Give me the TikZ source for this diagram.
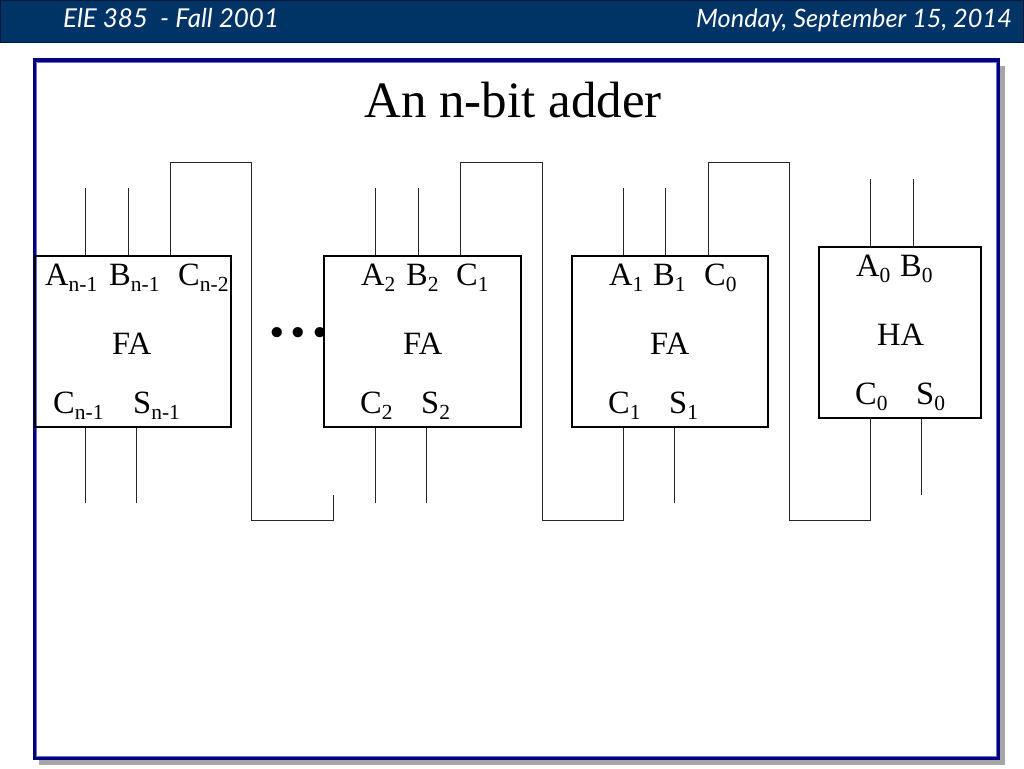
\documentclass[tikz,border=0pt]{standalone}
\usepackage{fontspec}
\setmainfont{Liberation Serif}
\newfontfamily\hand{Lato Italic}
\newcommand\lsub[1]{\raisebox{-0.2em}{\fontsize{21.5}{21.5}\selectfont #1}}
\definecolor{headblue}{HTML}{003366}
\definecolor{headedge}{HTML}{001A3A}
\definecolor{framenavy}{HTML}{000080}
\definecolor{frameedge}{HTML}{6E6ED2}
\definecolor{shadowgray}{HTML}{A6A6A6}
\tikzset{
  lbl/.style={inner sep=0pt,anchor=base west,font=\fontsize{32.5}{32.5}\selectfont},
  blockbox/.style={draw=black,line width=1.9pt,inner sep=0pt,anchor=north west},
  wire/.style={draw=black!85,line width=1pt},
  headtext/.style={inner sep=0pt,text=white},
}
\begin{document}
\begin{tikzpicture}[x=1pt,y=-1pt]
\useasboundingbox (0,0) rectangle (1024,768);
\fill[white] (0,0) rectangle (1024,768);
% header
\path[fill=headblue,draw=headedge,line width=1pt] (0.5,0.5) rectangle (1023.5,42.5);
\node[headtext,anchor=base west,font=\hand\fontsize{26}{26}\selectfont] (hl) at (63,28) {ElE 385\ \ - Fall 2001};
\node[headtext,anchor=base east,font=\hand\fontsize{25.3}{25.3}\selectfont] (hr) at (1012,28) {Monday, September 15, 2014};
% frame
\fill[shadowgray] (39,66) rectangle (1005,765);
\path[fill=white,draw=framenavy,line width=3pt] (34,60) rectangle (998.5,758.5);
\draw[frameedge,line width=1pt] (36,62) rectangle (996.5,756.5);
\node[inner sep=0pt,anchor=base west,font=\fontsize{51}{51}\selectfont] (title) at (364,117) {An n-bit adder};
% blocks
\node[blockbox,minimum width=196.4pt,minimum height=171pt] (b3) at (33.6,255.4) {};
\node[blockbox,minimum width=197pt,minimum height=171pt] (b2) at (323.4,255.4) {};
\node[blockbox,minimum width=196pt,minimum height=171pt] (b1) at (571.4,255.4) {};
\node[blockbox,minimum width=162pt,minimum height=171pt] (b0) at (818.4,246.4) {};
% free ends
\coordinate (a3) at (85.5,188); \coordinate (b3t) at (128,188);
\coordinate (a2) at (375.5,188); \coordinate (b2t) at (418,188);
\coordinate (a1) at (623,188); \coordinate (b1t) at (665.5,188);
\coordinate (a0) at (870.5,179); \coordinate (b0t) at (913,179);
\coordinate (c3) at (85.5,503); \coordinate (s3) at (136.5,503);
\coordinate (c2) at (375.5,503); \coordinate (s2) at (426.5,503);
\coordinate (c1) at (623,503); \coordinate (s1) at (674,503);
\coordinate (s0) at (921.5,495);
\coordinate (e3) at (333,495); \coordinate (e2) at (623,495);
\coordinate (c3i) at (170.7,255.4); \coordinate (c2i) at (460.7,255.4); \coordinate (c1i) at (708.5,255.4);
\coordinate (c0o) at (870.5,417.4);
% wires
\foreach \p/\q in {a3/b3,b3t/b3,a2/b2,b2t/b2,a1/b1,b1t/b1,a0/b0,b0t/b0}
  \draw[wire] (\p) -- (\p |- \q.north);
\foreach \p/\q in {c3/b3,s3/b3,c2/b2,s2/b2,c1/b1,s1/b1,s0/b0}
  \draw[wire] (\p) -- (\p |- \q.south);
\draw[wire] (c3i) |- (251,162) |- (333,520) -- (e3);
\draw[wire] (c2i) |- (542,162) |- (623,520) -- (e2);
\draw[wire] (c1i) |- (789,162) |- (870.5,520) -- (c0o);
% labels
\node[lbl] (la3) at (45,285) {A\lsub{n-1}};
\node[lbl] (lb3) at (109,285) {B\lsub{n-1}};
\node[lbl] (lc3) at (178,285) {C\lsub{n-2}};
\node[lbl] (lf3) at (112,354) {FA};
\node[lbl] (lo3) at (53,413) {C\lsub{n-1}};
\node[lbl] (lp3) at (133,413) {S\lsub{n-1}};
\node[lbl] (la2) at (361,285) {A\lsub{2}};
\node[lbl] (lb2) at (406,285) {B\lsub{2}};
\node[lbl] (lc2) at (456,285) {C\lsub{1}};
\node[lbl] (lf2) at (403,354) {FA};
\node[lbl] (lo2) at (360,413) {C\lsub{2}};
\node[lbl] (lp2) at (421,413) {S\lsub{2}};
\node[lbl] (la1) at (609,285) {A\lsub{1}};
\node[lbl] (lb1) at (653,285) {B\lsub{1}};
\node[lbl] (lc1) at (704,285) {C\lsub{0}};
\node[lbl] (lf1) at (650,354) {FA};
\node[lbl] (lo1) at (608,413) {C\lsub{1}};
\node[lbl] (lp1) at (669,413) {S\lsub{1}};
\node[lbl] (la0) at (856,276) {A\lsub{0}};
\node[lbl] (lb0) at (900,276) {B\lsub{0}};
\node[lbl] (lf0) at (877,345) {HA};
\node[lbl] (lo0) at (855,404) {C\lsub{0}};
\node[lbl] (lp0) at (916,404) {S\lsub{0}};
\node[inner sep=0pt,anchor=base west,font=\fontsize{86}{86}\selectfont] (dots) at (266,336) {...};
\end{tikzpicture}
\end{document}
